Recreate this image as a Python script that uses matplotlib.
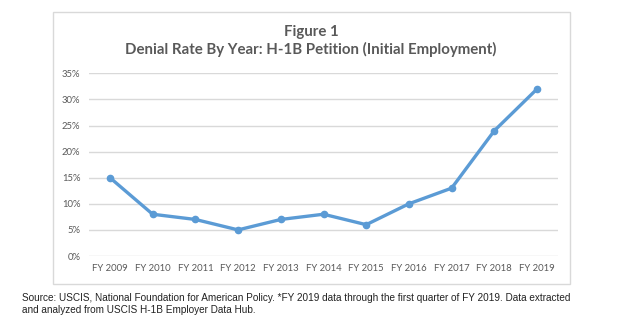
import matplotlib.pyplot as plt
from matplotlib.patches import Rectangle
from matplotlib.ticker import PercentFormatter

years = ["FY 2009", "FY 2010", "FY 2011", "FY 2012", "FY 2013", "FY 2014",
         "FY 2015", "FY 2016", "FY 2017", "FY 2018", "FY 2019"]
denial_rate = [15, 8, 7, 5, 7, 8, 6, 10, 13, 24, 32]
y_ticks = [0, 5, 10, 15, 20, 25, 30, 35]

W, H = 630, 325
fig = plt.figure(figsize=(6.3, 3.25), dpi=100)
fig.patch.set_facecolor("white")

# light frame around the chart area
fig.patches.append(Rectangle((53 / W, 1 - 284 / H), (570 - 53) / W, (284 - 12) / H,
                             transform=fig.transFigure, fill=False,
                             edgecolor="#d9d9d9", linewidth=1.0))

ax = fig.add_axes([88.6 / W, 1 - 256 / H, 469.8 / W, 182.7 / H])
x = list(range(len(years)))
ax.plot(x, denial_rate, color="#5b9bd5", linewidth=2.4, marker="o",
        markersize=4.5, solid_capstyle="round", zorder=3)

ax.set_xlim(-0.5, len(years) - 0.5)
ax.set_ylim(0, 35)
ax.set_yticks(y_ticks)
ax.yaxis.set_major_formatter(PercentFormatter(decimals=0))
ax.set_xticks(x)
ax.set_xticklabels(years)
ax.grid(axis="y", color="#d9d9d9", linewidth=1.0)
ax.set_axisbelow(True)
for s in ax.spines.values():
    s.set_visible(False)
ax.tick_params(length=0, labelsize=6.8, labelcolor="#595959", pad=6)
for lab in ax.get_xticklabels() + ax.get_yticklabels():
    lab.set_fontfamily("Lato")

fig.text(311 / W, 1 - 32 / H, "Figure 1", ha="center", va="center",
         fontsize=10.8, fontweight="bold", color="#595959", family="Lato")
fig.text(311 / W, 1 - 49 / H, "Denial Rate By Year: H-1B Petition (Initial Employment)",
         ha="center", va="center", fontsize=10.8, fontweight="bold",
         color="#595959", family="Lato")

fig.text(22 / W, 1 - 304 / H,
         "Source: USCIS, National Foundation for American Policy. *FY 2019 data through "
         "the first quarter of FY 2019. Data extracted\nand analyzed from USCIS H-1B "
         "Employer Data Hub.",
         ha="left", va="center", fontsize=7.2, color="#222222",
         family="Liberation Sans", linespacing=1.35)

fig.savefig("out.png", dpi=100)
